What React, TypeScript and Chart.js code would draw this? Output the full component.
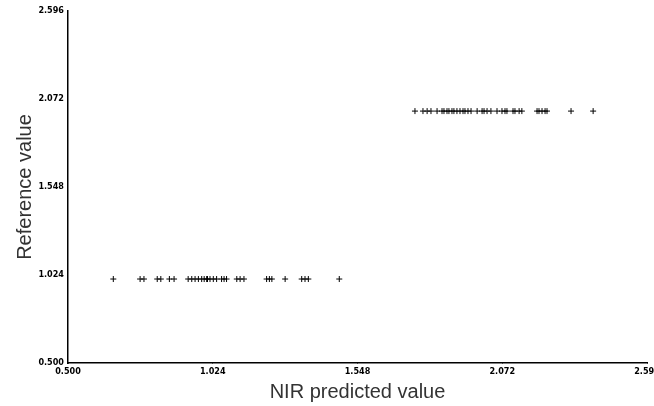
import React, { useEffect, useRef } from "react";
import { Chart, registerables } from "chart.js";

Chart.register(...registerables);

const xTicks = [0.5, 1.024, 1.548, 2.072, 2.596];
const yTicks = [0.5, 1.024, 1.548, 2.072, 2.596];

const lowRef = 1;
const lowPredicted = [
  0.664, 0.761, 0.775, 0.823, 0.836, 0.867, 0.884, 0.935, 0.948, 0.96, 0.972,
  0.984, 0.993, 1.002, 1.005, 1.014, 1.026, 1.038, 1.056, 1.065, 1.074, 1.111,
  1.123, 1.137, 1.219, 1.229, 1.238, 1.286, 1.346, 1.358, 1.37, 1.482,
];

const highRef = 2;
const highPredicted = [
  1.756, 1.785, 1.8, 1.814, 1.836, 1.854, 1.861, 1.872, 1.879, 1.89, 1.897,
  1.908, 1.919, 1.93, 1.937, 1.948, 1.959, 1.981, 1.999, 2.006, 2.017, 2.031,
  2.053, 2.071, 2.082, 2.089, 2.111, 2.118, 2.133, 2.143, 2.198, 2.205, 2.216,
  2.227, 2.234, 2.321, 2.401,
];

export default function App() {
  const ref = useRef<HTMLCanvasElement | null>(null);
  useEffect(() => {
    document.body.style.margin = "0";
    const points = [
      ...lowPredicted.map((x) => ({ x, y: lowRef })),
      ...highPredicted.map((x) => ({ x, y: highRef })),
    ];
    const tickFont = { family: "DejaVu Sans Condensed", size: 9, weight: "bold" as const };
    const titleFont = { family: "Liberation Sans", size: 20 };
    const chart = new Chart(ref.current!, {
      type: "scatter",
      data: {
        datasets: [
          {
            data: points,
            pointStyle: "cross",
            pointRadius: 3,
            borderColor: "#000",
            backgroundColor: "#000",
            borderWidth: 1,
          },
        ],
      },
      options: {
        animation: false,
        responsive: false,
        layout: { padding: { top: 11, right: 7, left: 0, bottom: 0 } },
        plugins: { legend: { display: false }, tooltip: { enabled: false } },
        scales: {
          x: {
            type: "linear",
            min: 0.5,
            max: 2.596,
            afterBuildTicks: (s: any) => {
              s.ticks = xTicks.map((v) => ({ value: v }));
            },
            afterFit: (s: any) => {
              s.height = 43;
              s.paddingLeft = 0;
              s.paddingRight = 0;
            },
            ticks: {
              font: tickFont,
              color: "#000",
              padding: 3,
              maxRotation: 0,
              autoSkip: false,
              callback: (v: any) => Number(v).toFixed(3),
            },
            grid: { display: true, drawOnChartArea: false, tickLength: 0, color: "#000" },
            border: { color: "#000", width: 1.5 },
            title: {
              display: true,
              text: "NIR predicted value",
              font: titleFont,
              color: "#333",
              padding: { top: 0, bottom: 2 },
            },
          },
          y: {
            type: "linear",
            min: 0.5,
            max: 2.596,
            afterBuildTicks: (s: any) => {
              s.ticks = yTicks.map((v) => ({ value: v }));
            },
            afterFit: (s: any) => {
              s.width = 68;
              s.paddingTop = 0;
              s.paddingBottom = 0;
            },
            ticks: {
              font: tickFont,
              color: "#000",
              padding: 4,
              autoSkip: false,
              callback: (v: any) => Number(v).toFixed(3),
            },
            grid: { display: true, drawOnChartArea: false, tickLength: 0, color: "#000" },
            border: { color: "#000", width: 1.5 },
            title: {
              display: true,
              text: "Reference value",
              font: titleFont,
              color: "#333",
              padding: { top: 13, bottom: 0 },
            },
          },
        },
      },
    });
    return () => chart.destroy();
  }, []);
  return (
    <div style={{ width: 654, height: 406, background: "#fff" }}>
      <canvas ref={ref} width={654} height={406} style={{ display: "block" }} />
    </div>
  );
}
